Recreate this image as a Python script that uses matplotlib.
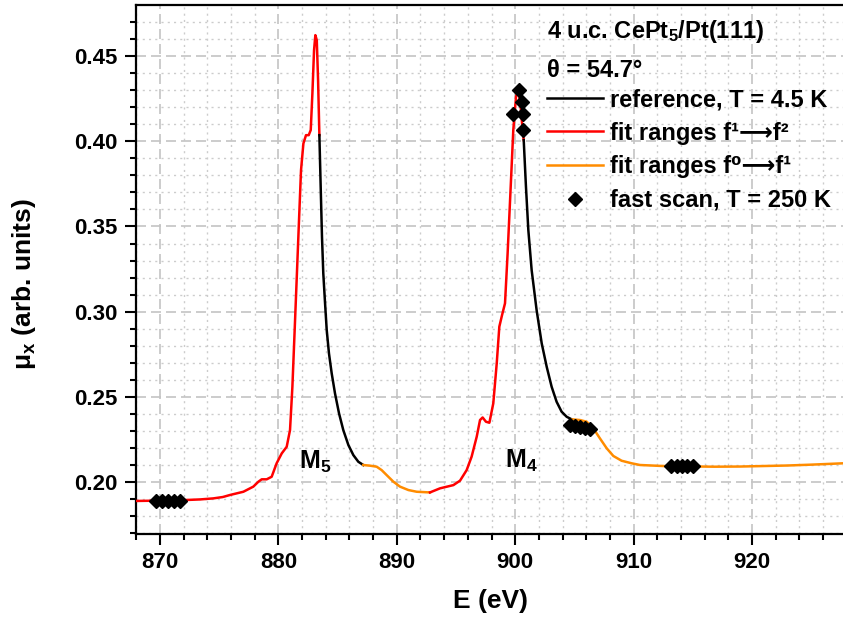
import numpy as np
import matplotlib
matplotlib.use("Agg")
import matplotlib.pyplot as plt
from matplotlib.lines import Line2D

plt.rcParams['font.family'] = ['Liberation Sans', 'DejaVu Sans']
plt.rcParams['font.weight'] = 'bold'
plt.rcParams['mathtext.default'] = 'regular'

# spectrum (E in eV, mu_x in arb. units)
energy = np.array([
    868.0, 870.0, 872.0, 873.4, 874.5, 875.3, 875.91, 877.04, 877.88, 878.31,
    878.59, 879.01, 879.43, 879.85, 880.28, 880.70, 880.98, 881.18, 881.35, 881.54,
    881.74, 881.91, 882.11, 882.33, 882.56, 882.73, 882.87, 883.01, 883.12, 883.24,
    883.35, 883.46, 883.57, 883.68, 883.79, 883.94, 884.08, 884.27, 884.50, 884.78,
    885.12, 885.48, 885.91, 886.33, 886.75, 887.17, 887.74, 888.30, 888.72, 889.14,
    889.71, 890.27, 890.98, 891.68, 892.80, 893.65, 894.78, 895.34, 895.90, 896.32,
    896.75, 897.03, 897.25, 897.53, 897.82, 898.15, 898.44, 898.66, 898.89, 899.14,
    899.36, 899.62, 899.84, 900.07, 900.26, 900.46, 900.63, 900.72, 900.91, 901.11,
    901.39, 901.81, 902.24, 902.66, 903.08, 903.50, 903.92, 904.35, 904.77, 905.47,
    906.04, 906.60, 907.16, 907.73, 908.29, 908.99, 909.84, 910.54, 912.5, 914.5,
    916.8, 919.0, 921.0, 923.0, 925.0, 927.7])
mu = np.array([
    0.1889, 0.1891, 0.1894, 0.1898, 0.1904, 0.1912, 0.1924, 0.1943, 0.1973, 0.2002,
    0.2016, 0.2016, 0.2031, 0.2110, 0.2168, 0.2207, 0.2305, 0.2559, 0.2853, 0.3185,
    0.3538, 0.3831, 0.3987, 0.4036, 0.4036, 0.4066, 0.4281, 0.4535, 0.4623, 0.4594,
    0.4359, 0.4036, 0.3733, 0.3440, 0.3225, 0.3049, 0.2892, 0.2755, 0.2638, 0.2520,
    0.2403, 0.2305, 0.2217, 0.2158, 0.2119, 0.2100, 0.2096, 0.2090, 0.2070, 0.2041,
    0.2002, 0.1973, 0.1953, 0.1943, 0.1939, 0.1963, 0.1982, 0.2008, 0.2070, 0.2149,
    0.2266, 0.2364, 0.2379, 0.2354, 0.2348, 0.2462, 0.2696, 0.2912, 0.2980, 0.3049,
    0.3342, 0.3733, 0.4066, 0.4261, 0.4310, 0.4203, 0.4066, 0.4007, 0.3733, 0.3479,
    0.3244, 0.3009, 0.2814, 0.2677, 0.2559, 0.2471, 0.2413, 0.2383, 0.2368, 0.2364,
    0.2354, 0.2315, 0.2256, 0.2198, 0.2153, 0.2125, 0.2110, 0.2100, 0.2094, 0.2092,
    0.2090, 0.2091, 0.2094, 0.2097, 0.2102, 0.2110])

# which part of the curve is which (reference / fit ranges)
seg_edges = [868.0, 883.46, 887.17, 892.80, 900.72, 904.77, 927.7]
seg_kind = ['f1f2', 'ref', 'f0f1', 'f1f2', 'ref', 'f0f1']

# fast scan points
fast_E = [869.7, 870.2, 870.7, 871.2, 871.7,
          899.8, 900.3, 900.6, 900.65, 900.7,
          904.65, 905.07, 905.5, 905.9, 906.3,
          913.2, 913.65, 914.1, 914.55, 915.0]
fast_mu = [0.1890, 0.1890, 0.1890, 0.1890, 0.1890,
           0.4163, 0.4300, 0.4232, 0.4163, 0.4066,
           0.2334, 0.2328, 0.2323, 0.2317, 0.2311,
           0.2092, 0.2092, 0.2092, 0.2092, 0.2092]

colors = {'ref': 'black', 'f1f2': '#ff0000', 'f0f1': '#ff8c00'}

fig = plt.figure(figsize=(8.43, 6.21), dpi=100)
ax = fig.add_axes([136/843, 87/621, 707/843, 529/621])

for i, kind in enumerate(seg_kind):
    m = (energy >= seg_edges[i]) & (energy <= seg_edges[i+1])
    ax.plot(energy[m], mu[m], color=colors[kind], lw=1.8, zorder=3)

ax.plot(fast_E, fast_mu, 'D', color='black', ms=7, ls='none', zorder=4)

ax.set_xlim(867.97, 927.69)
ax.set_ylim(0.1695, 0.480)
ax.set_xticks(np.arange(870, 921, 10))
ax.set_xticks(np.arange(868, 928, 2), minor=True)
ax.set_yticks(np.arange(0.20, 0.451, 0.05))
ax.set_yticks(np.arange(0.17, 0.48, 0.01), minor=True)
ax.yaxis.set_major_formatter(matplotlib.ticker.FormatStrFormatter('%.2f'))

ax.grid(which='major', color='#c4c4c4', lw=1.2, dashes=(6, 3))
ax.grid(which='minor', color='#cccccc', lw=1.0, dashes=(1.5, 3))
ax.set_axisbelow(True)

ax.tick_params(which='major', direction='out', length=8, width=1.5, labelsize=16, pad=5)
ax.tick_params(which='minor', direction='out', length=4, width=1.5)
for s in ['left', 'bottom', 'top']:
    ax.spines[s].set_linewidth(1.6)
ax.spines['right'].set_visible(False)

ax.set_xlabel('E (eV)', fontsize=19, fontweight='bold')
ax.set_ylabel('μ$_x$ (arb. units)', fontsize=19, fontweight='bold')
ax.xaxis.set_label_coords(0.501, -0.104)
ax.yaxis.set_label_coords(-0.1386, 0.4726)

ax.text(881.75, 0.2080, 'M$_5$', fontsize=18, fontweight='bold')
ax.text(899.16, 0.2086, 'M$_4$', fontsize=18, fontweight='bold')

fig.text(547/843, 1 - 38/621, '4 u.c. CePt$_5$/Pt(111)', fontsize=17, fontweight='bold')
fig.text(547/843, 1 - 77/621, 'θ = 54.7°', fontsize=17, fontweight='bold')

handles = [Line2D([], [], color='black', lw=1.8),
           Line2D([], [], color='#ff0000', lw=1.8),
           Line2D([], [], color='#ff8c00', lw=1.8),
           Line2D([], [], color='black', marker='D', ms=7, ls='none')]
labels = ['reference, T = 4.5 K', 'fit ranges f¹⟶f²',
          'fit ranges f⁰⟶f¹', 'fast scan, T = 250 K']
fig.legend(handles, labels, loc='upper left', bbox_to_anchor=(547/843, 1 - 88/621),
           frameon=False, fontsize=17, handlelength=2.37, handletextpad=0.3,
           borderpad=0, borderaxespad=0, labelspacing=0.45, numpoints=1)

fig.savefig('out.png', dpi=100)
